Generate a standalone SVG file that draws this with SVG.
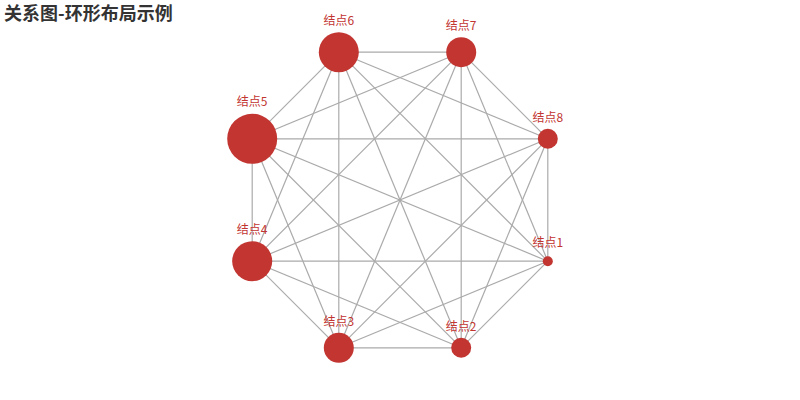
<svg xmlns="http://www.w3.org/2000/svg" width="800" height="400" viewBox="0 0 800 400">
<style>
.title{font-family:"Noto Sans CJK SC","Noto Sans",sans-serif;font-size:18px;font-weight:bold;fill:#333}
.edge{stroke:#aaa;stroke-width:1.2;fill:none}
.node circle{fill:#c23531}
.node text{font-family:"Noto Sans CJK SC","Noto Sans",sans-serif;font-size:12px;fill:#c23531;text-anchor:middle}
</style>
<rect width="800" height="400" fill="#fff"/>
<text class="title" x="4" y="19.5">关系图-环形布局示例</text>
<g id="edges">
<line class="edge" x1="547.8" y1="261.2" x2="461.2" y2="347.8"/>
<line class="edge" x1="547.8" y1="261.2" x2="338.8" y2="347.8"/>
<line class="edge" x1="547.8" y1="261.2" x2="252.2" y2="261.2"/>
<line class="edge" x1="547.8" y1="261.2" x2="252.2" y2="138.8"/>
<line class="edge" x1="547.8" y1="261.2" x2="338.8" y2="52.2"/>
<line class="edge" x1="547.8" y1="261.2" x2="461.2" y2="52.2"/>
<line class="edge" x1="547.8" y1="261.2" x2="547.8" y2="138.8"/>
<line class="edge" x1="461.2" y1="347.8" x2="338.8" y2="347.8"/>
<line class="edge" x1="461.2" y1="347.8" x2="252.2" y2="261.2"/>
<line class="edge" x1="461.2" y1="347.8" x2="252.2" y2="138.8"/>
<line class="edge" x1="461.2" y1="347.8" x2="338.8" y2="52.2"/>
<line class="edge" x1="461.2" y1="347.8" x2="461.2" y2="52.2"/>
<line class="edge" x1="461.2" y1="347.8" x2="547.8" y2="138.8"/>
<line class="edge" x1="338.8" y1="347.8" x2="252.2" y2="261.2"/>
<line class="edge" x1="338.8" y1="347.8" x2="252.2" y2="138.8"/>
<line class="edge" x1="338.8" y1="347.8" x2="338.8" y2="52.2"/>
<line class="edge" x1="338.8" y1="347.8" x2="461.2" y2="52.2"/>
<line class="edge" x1="338.8" y1="347.8" x2="547.8" y2="138.8"/>
<line class="edge" x1="252.2" y1="261.2" x2="252.2" y2="138.8"/>
<line class="edge" x1="252.2" y1="261.2" x2="338.8" y2="52.2"/>
<line class="edge" x1="252.2" y1="261.2" x2="461.2" y2="52.2"/>
<line class="edge" x1="252.2" y1="261.2" x2="547.8" y2="138.8"/>
<line class="edge" x1="252.2" y1="138.8" x2="338.8" y2="52.2"/>
<line class="edge" x1="252.2" y1="138.8" x2="461.2" y2="52.2"/>
<line class="edge" x1="252.2" y1="138.8" x2="547.8" y2="138.8"/>
<line class="edge" x1="338.8" y1="52.2" x2="461.2" y2="52.2"/>
<line class="edge" x1="338.8" y1="52.2" x2="547.8" y2="138.8"/>
<line class="edge" x1="461.2" y1="52.2" x2="547.8" y2="138.8"/>
</g>
<g id="node1" class="node"><circle cx="547.8" cy="261.2" r="5"/><text x="547.8" y="247">结点1</text></g>
<g id="node2" class="node"><circle cx="461.2" cy="347.8" r="10"/><text x="461.2" y="330.5">结点2</text></g>
<g id="node3" class="node"><circle cx="338.8" cy="347.8" r="15"/><text x="338.8" y="325.5">结点3</text></g>
<g id="node4" class="node"><circle cx="252.2" cy="261.2" r="20"/><text x="252.2" y="234">结点4</text></g>
<g id="node5" class="node"><circle cx="252.2" cy="138.8" r="25"/><text x="252.2" y="106">结点5</text></g>
<g id="node6" class="node"><circle cx="338.8" cy="52.2" r="20"/><text x="338.8" y="24.5">结点6</text></g>
<g id="node7" class="node"><circle cx="461.2" cy="52.2" r="15"/><text x="461.2" y="30">结点7</text></g>
<g id="node8" class="node"><circle cx="547.8" cy="138.8" r="10"/><text x="547.8" y="121.5">结点8</text></g>
</svg>
